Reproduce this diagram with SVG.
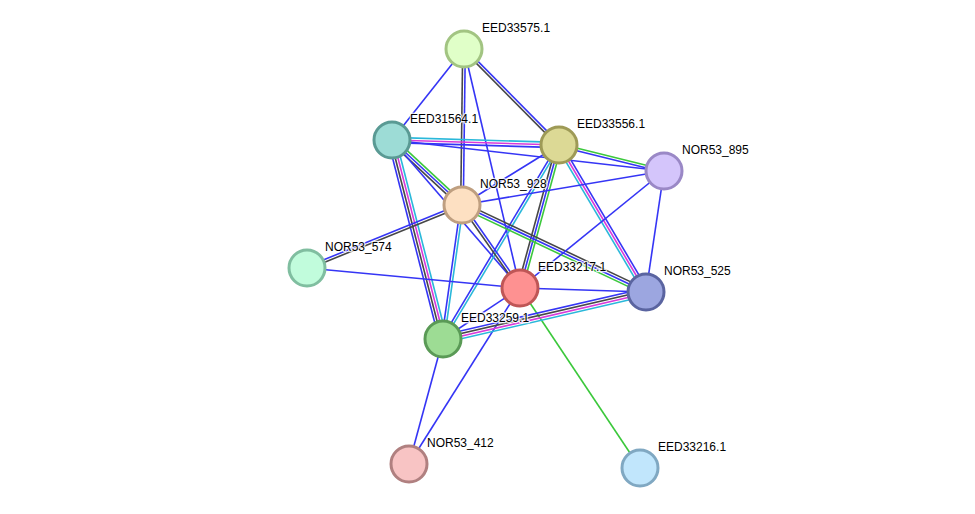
<svg xmlns="http://www.w3.org/2000/svg" width="975" height="514" viewBox="0 0 975 514">
<style>
.e{fill:none;stroke-width:1.6}
.b{stroke:#3535f5}.k{stroke:#474747}.m{stroke:#d93ad9}.c{stroke:#2ab8da}.g{stroke:#3cc83c}
.n{stroke-width:3}
.t{font-family:"Liberation Sans",Arial,sans-serif;font-size:12px;fill:#000;stroke:#fff;stroke-width:2.5;stroke-opacity:0.8;paint-order:stroke;stroke-linejoin:round}
</style>
<rect width="975" height="514" fill="#fff"/>
<g id="connectors">
<line class="e b" x1="464" y1="49" x2="392" y2="140"/>
<line class="e k" x1="462.7" y1="49" x2="460.7" y2="205"/>
<line class="e b" x1="465.3" y1="49" x2="463.3" y2="205"/>
<line class="e b" x1="464" y1="49" x2="520" y2="288"/>
<line class="e k" x1="463.1" y1="49.9" x2="558.1" y2="145.9"/>
<line class="e b" x1="464.9" y1="48.1" x2="559.9" y2="144.1"/>
<line class="e c" x1="392.1" y1="137.4" x2="559.1" y2="142.4"/>
<line class="e m" x1="392" y1="140" x2="559" y2="145"/>
<line class="e b" x1="391.9" y1="142.6" x2="558.9" y2="147.6"/>
<line class="e b" x1="392" y1="140" x2="664" y2="171"/>
<line class="e g" x1="393.8" y1="138.1" x2="463.8" y2="203.1"/>
<line class="e b" x1="392" y1="140" x2="462" y2="205"/>
<line class="e k" x1="390.2" y1="141.9" x2="460.2" y2="206.9"/>
<line class="e b" x1="392" y1="140" x2="520" y2="288"/>
<line class="e b" x1="388.2" y1="141" x2="439.2" y2="340"/>
<line class="e k" x1="390.7" y1="140.3" x2="441.7" y2="339.3"/>
<line class="e m" x1="393.3" y1="139.7" x2="444.3" y2="338.7"/>
<line class="e c" x1="395.8" y1="139" x2="446.8" y2="338"/>
<line class="e b" x1="559" y1="145" x2="462" y2="205"/>
<line class="e g" x1="559.3" y1="143.7" x2="664.3" y2="169.7"/>
<line class="e b" x1="558.7" y1="146.3" x2="663.7" y2="172.3"/>
<line class="e k" x1="556.5" y1="144.3" x2="517.5" y2="287.3"/>
<line class="e b" x1="559" y1="145" x2="520" y2="288"/>
<line class="e g" x1="561.5" y1="145.7" x2="522.5" y2="288.7"/>
<line class="e b" x1="557.9" y1="144.3" x2="441.9" y2="338.3"/>
<line class="e c" x1="560.1" y1="145.7" x2="444.1" y2="339.7"/>
<line class="e c" x1="556.8" y1="146.3" x2="643.8" y2="293.3"/>
<line class="e m" x1="559" y1="145" x2="646" y2="292"/>
<line class="e b" x1="561.2" y1="143.7" x2="648.2" y2="290.7"/>
<line class="e b" x1="462" y1="205" x2="664" y2="171"/>
<line class="e k" x1="463.1" y1="202.6" x2="647.1" y2="289.6"/>
<line class="e b" x1="462" y1="205" x2="646" y2="292"/>
<line class="e g" x1="460.9" y1="207.4" x2="644.9" y2="294.4"/>
<line class="e b" x1="463.1" y1="204.3" x2="521.1" y2="287.3"/>
<line class="e k" x1="460.9" y1="205.7" x2="518.9" y2="288.7"/>
<line class="e b" x1="460.7" y1="204.8" x2="441.7" y2="338.8"/>
<line class="e c" x1="463.3" y1="205.2" x2="444.3" y2="339.2"/>
<line class="e b" x1="306.5" y1="266.8" x2="461.5" y2="203.8"/>
<line class="e k" x1="307.5" y1="269.2" x2="462.5" y2="206.2"/>
<line class="e b" x1="307" y1="268" x2="520" y2="288"/>
<line class="e b" x1="520" y1="288" x2="664" y2="171"/>
<line class="e b" x1="520" y1="288" x2="646" y2="292"/>
<line class="e b" x1="520" y1="288" x2="443" y2="339"/>
<line class="e b" x1="520" y1="288" x2="409" y2="464"/>
<line class="e g" x1="520" y1="288" x2="640" y2="468"/>
<line class="e b" x1="442.1" y1="335.2" x2="645.1" y2="288.2"/>
<line class="e k" x1="442.7" y1="337.7" x2="645.7" y2="290.7"/>
<line class="e m" x1="443.3" y1="340.3" x2="646.3" y2="293.3"/>
<line class="e c" x1="443.9" y1="342.8" x2="646.9" y2="295.8"/>
<line class="e b" x1="443" y1="339" x2="409" y2="464"/>
<line class="e b" x1="664" y1="171" x2="646" y2="292"/>
</g>
<g id="EED33575.1"><circle class="n" cx="464" cy="49" r="18" fill="#e0ffc8" stroke="#a2c482"/><text class="t" x="482" y="32">EED33575.1</text></g>
<g id="EED31564.1"><circle class="n" cx="392" cy="140" r="18" fill="#9ddcd6" stroke="#5a9a94"/><text class="t" x="410" y="123">EED31564.1</text></g>
<g id="EED33556.1"><circle class="n" cx="559" cy="145" r="18" fill="#dcd995" stroke="#9e9a56"/><text class="t" x="577" y="128">EED33556.1</text></g>
<g id="NOR53_895"><circle class="n" cx="664" cy="171" r="18" fill="#d4c5fb" stroke="#9a88c6"/><text class="t" x="682" y="154">NOR53_895</text></g>
<g id="NOR53_928"><circle class="n" cx="462" cy="205" r="18" fill="#fde0c2" stroke="#bf9f80"/><text class="t" x="480" y="188">NOR53_928</text></g>
<g id="NOR53_574"><circle class="n" cx="307" cy="268" r="18" fill="#c1fcdc" stroke="#80bea0"/><text class="t" x="325" y="251">NOR53_574</text></g>
<g id="EED33217.1"><circle class="n" cx="520" cy="288" r="18" fill="#fe9191" stroke="#bf5656"/><text class="t" x="538" y="271">EED33217.1</text></g>
<g id="NOR53_525"><circle class="n" cx="646" cy="292" r="18" fill="#9ca6e0" stroke="#5a64a0"/><text class="t" x="664" y="275">NOR53_525</text></g>
<g id="EED33259.1"><circle class="n" cx="443" cy="339" r="18" fill="#9ddc94" stroke="#5a9a56"/><text class="t" x="461" y="322">EED33259.1</text></g>
<g id="NOR53_412"><circle class="n" cx="409" cy="464" r="18" fill="#f8c4c4" stroke="#b08080"/><text class="t" x="427" y="447">NOR53_412</text></g>
<g id="EED33216.1"><circle class="n" cx="640" cy="468" r="18" fill="#c1e6fc" stroke="#80a8c2"/><text class="t" x="658" y="451">EED33216.1</text></g>
</svg>
